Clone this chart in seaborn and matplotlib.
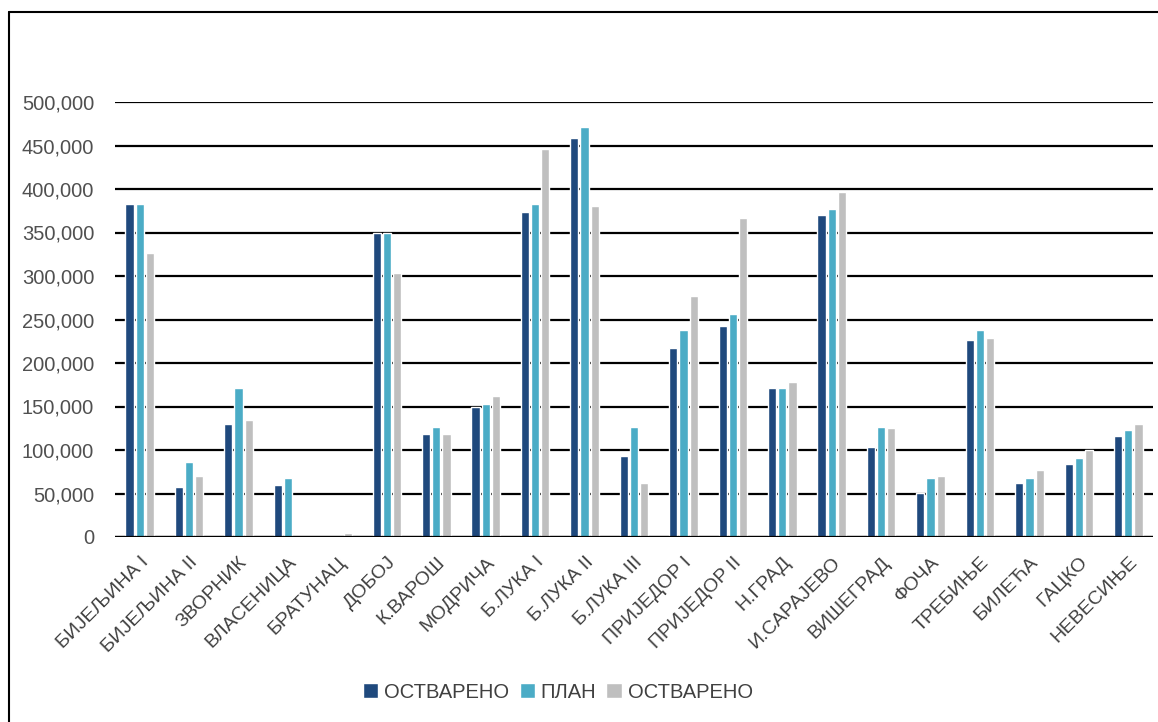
import pandas as pd
import matplotlib.pyplot as plt
import seaborn as sns
from matplotlib.lines import Line2D

opstine = ["БИЈЕЉИНА I", "БИЈЕЉИНА II", "ЗВОРНИК", "ВЛАСЕНИЦА", "БРАТУНАЦ", "ДОБОЈ",
           "К.ВАРОШ", "МОДРИЧА", "Б.ЛУКА I", "Б.ЛУКА II", "Б.ЛУКА III", "ПРИЈЕДОР I",
           "ПРИЈЕДОР II", "Н.ГРАД", "И.САРАЈЕВО", "ВИШЕГРАД", "ФОЧА", "ТРЕБИЊЕ",
           "БИЛЕЋА", "ГАЦКО", "НЕВЕСИЊЕ"]
ostvareno1 = [383000, 58000, 130000, 60000, 0, 350000, 118000, 149500, 374000, 459000, 93000,
              217000, 243000, 171000, 370000, 104000, 51000, 226500, 62500, 83500, 116000]
plan = [383000, 86000, 171000, 67500, 0, 350000, 127000, 153000, 383000, 471000, 127000,
        238000, 256500, 171000, 376500, 127000, 67500, 238000, 67500, 90500, 122500]
ostvareno2 = [326000, 70000, 134000, 0, 5000, 303000, 118000, 162500, 446000, 381000, 62500,
              277000, 367000, 178000, 397000, 125000, 70000, 229000, 76500, 99500, 129500]
serije = ["ОСТВАРЕНО", "ПЛАН", "ОСТВАРЕНО"]
yticks = list(range(0, 500001, 50000))

df = pd.concat([
    pd.DataFrame({"opstina": opstine, "vrijednost": ostvareno1, "serija": "s1"}),
    pd.DataFrame({"opstina": opstine, "vrijednost": plan, "serija": "s2"}),
    pd.DataFrame({"opstina": opstine, "vrijednost": ostvareno2, "serija": "s3"}),
])

sns.set_style("white")
plt.rcParams['font.family'] = ['Liberation Sans', 'DejaVu Sans']

fig = plt.figure(figsize=(11.58, 7.22), dpi=100)
ax = fig.add_axes([115 / 1158, 1 - 537 / 722, (1153 - 115) / 1158, (537 - 102) / 722])

sns.barplot(data=df, x="opstina", y="vrijednost", hue="serija", ax=ax,
            palette=["#1F497D", "#4BACC6", "#BFBFBF"], width=0.62, gap=0.2,
            saturation=1, errorbar=None, zorder=3)

ax.set_xlim(-0.5, len(opstine) - 0.5)
ax.set_ylim(0, 500000)
ax.set_yticks(yticks)
ax.set_yticklabels([f"{v:,}" for v in yticks])
ax.yaxis.grid(True, color="black", linewidth=1.6, zorder=1)
ax.set_axisbelow(True)
for s in ax.spines.values():
    s.set_visible(False)
ax.axhline(0, color="black", linewidth=1.6, zorder=4)
ax.set_xlabel("")
ax.set_ylabel("")
ax.tick_params(axis="y", length=0, pad=15, labelsize=14.5, labelcolor="#505050")
ax.tick_params(axis="x", length=0, pad=12, labelsize=14, labelcolor="#404040")
plt.setp(ax.get_xticklabels(), rotation=45, ha="right", rotation_mode="anchor")

handles, _ = ax.get_legend_handles_labels()
ax.legend(handles, serije, loc="center", bbox_to_anchor=(558 / 1158, 1 - 692 / 722),
          bbox_transform=fig.transFigure, ncol=3, frameon=False, fontsize=14.5,
          handlelength=0.75, handleheight=0.75, handletextpad=0.3, columnspacing=0.5,
          labelcolor="#404040")

# okvir grafikona
fig.add_artist(Line2D([9 / 1158, 9 / 1158], [0, 1 - 12 / 722], color="black", lw=1.5,
                      transform=fig.transFigure))
fig.add_artist(Line2D([9 / 1158, 1], [1 - 12 / 722, 1 - 12 / 722], color="black", lw=1.5,
                      transform=fig.transFigure))

fig.savefig("out.png", dpi=100)
